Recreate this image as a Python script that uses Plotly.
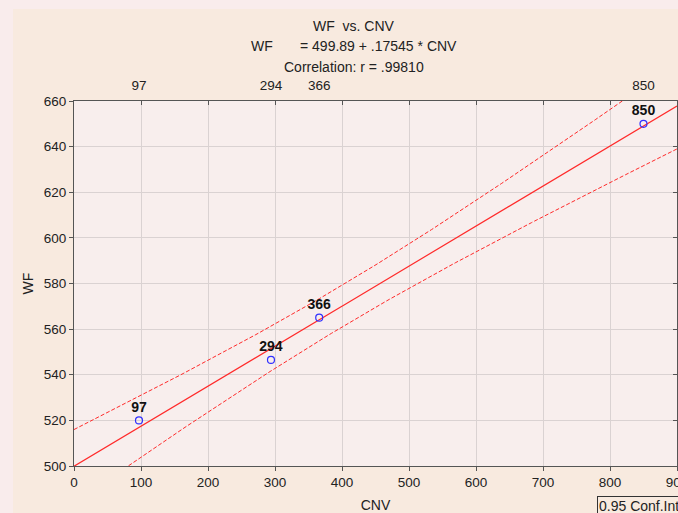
import numpy as np
import plotly.graph_objects as go

# Data
cnv = [97, 294, 366, 850]
wf = [520.0, 546.5, 565.0, 650.0]
point_labels = ["97", "294", "366", "850"]
x_ticks = [0, 100, 200, 300, 400, 500, 600, 700, 800, 900]
y_ticks = [500, 520, 540, 560, 580, 600, 620, 640, 660]
T_975_DF2 = 4.302653  # Student t, 95% two-sided, df = n-2 = 2

# Regression + 95% confidence band for the mean
x = np.array(cnv, float)
y = np.array(wf, float)
n = len(x)
xm, ym = x.mean(), y.mean()
sxx = ((x - xm) ** 2).sum()
b = ((x - xm) * (y - ym)).sum() / sxx
a = ym - b * xm
r = np.corrcoef(x, y)[0, 1]
s = np.sqrt(((y - (a + b * x)) ** 2).sum() / (n - 2))
xs = np.linspace(0, 900, 200)
fit = a + b * xs
half = T_975_DF2 * s * np.sqrt(1 / n + (xs - xm) ** 2 / sxx)

FONT = "Liberation Sans, Arial, sans-serif"
RED = "#ff2a2a"
DASH = "4px,2px"
TICK_FS = 13.5
TXT_FS = 14

fig = go.Figure()
fig.add_trace(go.Scatter(x=xs, y=fit + half, mode="lines",
                         line=dict(color=RED, width=1, dash=DASH), hoverinfo="skip"))
fig.add_trace(go.Scatter(x=xs, y=fit - half, mode="lines",
                         line=dict(color=RED, width=1, dash=DASH), hoverinfo="skip"))
fig.add_trace(go.Scatter(x=xs, y=fit, mode="lines",
                         line=dict(color=RED, width=1.2), hoverinfo="skip"))
fig.add_trace(go.Scatter(x=cnv, y=wf, mode="markers+text", text=point_labels,
                         textposition="top center",
                         textfont=dict(family=FONT, size=14, color="#111"),
                         texttemplate="<b>%{text}</b>",
                         marker=dict(symbol="circle-open", size=7,
                                     color="#3030ff", line=dict(width=1.2))))
# invisible traces to activate the extra axes
fig.add_trace(go.Scatter(x=cnv, y=wf, xaxis="x2", mode="markers",
                         marker=dict(opacity=0), hoverinfo="skip"))
fig.add_trace(go.Scatter(x=cnv, y=wf, xaxis="x3", yaxis="y2", mode="markers",
                         marker=dict(opacity=0), hoverinfo="skip"))

fig.update_layout(
    width=678, height=513, autosize=False,
    margin=dict(l=74, r=1, t=101, b=47),
    paper_bgcolor="#f8eadf",
    plot_bgcolor="#f8eeed",
    showlegend=False,
    font=dict(family=FONT, size=TICK_FS, color="#222"),
    xaxis=dict(range=[0, 900], tickvals=x_ticks, ticktext=[str(v) for v in x_ticks],
               showgrid=True, gridcolor="#dad2d2", gridwidth=1,
               showline=True, linecolor="#555", linewidth=1, mirror=True,
               ticks="outside", ticklen=4, tickcolor="#555", zeroline=False,
               ticklabeloverflow="allow", automargin=False,
               title=dict(text="CNV", font=dict(size=TXT_FS), standoff=12),
               tickfont=dict(size=TICK_FS)),
    xaxis2=dict(range=[0, 900], overlaying="x", side="top",
                tickvals=cnv, ticktext=point_labels, showgrid=False,
                ticklabeloverflow="allow", automargin=False,
                showline=False, ticks="outside", ticklen=5,
                tickcolor="rgba(0,0,0,0)", zeroline=False,
                tickfont=dict(size=TICK_FS)),
    xaxis3=dict(range=[0, 900], overlaying="x", side="top",
                tickvals=x_ticks, showticklabels=False, showgrid=False,
                showline=False, ticks="inside", ticklen=4, tickcolor="#555",
                zeroline=False, automargin=False),
    yaxis=dict(range=[500, 660], tickvals=y_ticks,
               showgrid=True, gridcolor="#dad2d2", gridwidth=1,
               showline=True, linecolor="#555", linewidth=1, mirror=True,
               ticks="outside", ticklen=4, tickcolor="#555", zeroline=False,
               automargin=False,
               title=dict(text="WF", font=dict(size=TXT_FS), standoff=6),
               tickfont=dict(size=TICK_FS)),
    yaxis2=dict(range=[500, 660], overlaying="y", side="right",
                tickvals=y_ticks, showticklabels=False, showgrid=False,
                showline=False, ticks="inside", ticklen=4, tickcolor="#555",
                zeroline=False, automargin=False),
)

# pink outer strips (left and top) around the peach panel
px0 = lambda p: (p - 74) / 603
py0 = lambda p: (466 - p) / 365
fig.add_shape(type="rect", xref="paper", yref="paper",
              x0=px0(0), x1=px0(13), y0=py0(513), y1=py0(0),
              fillcolor="#f9ecec", line=dict(width=0), layer="below")
fig.add_shape(type="rect", xref="paper", yref="paper",
              x0=px0(0), x1=px0(678), y0=py0(9), y1=py0(0),
              fillcolor="#f9ecec", line=dict(width=0), layer="below")

title_lines = [
    "WF  vs. CNV",
    "WF&nbsp;&nbsp;&nbsp;&nbsp;&nbsp;&nbsp; = %.2f + .%d * CNV" % (a, round(b * 1e5)),
    "Correlation: r = .%d" % round(r * 1e5),
]
title_y = [26, 46, 67]
for t, py in zip(title_lines, title_y):
    fig.add_annotation(text=t, xref="paper", yref="paper",
                       x=px0(354), y=py0(py),
                       showarrow=False, xanchor="center", yanchor="middle",
                       font=dict(size=TXT_FS, color="#222"))

fig.add_annotation(text="0.95 Conf.Int.", xref="paper", yref="paper",
                   x=px0(597), y=py0(496),
                   xanchor="left", yanchor="top", showarrow=False,
                   bordercolor="#333", borderwidth=1, borderpad=1,
                   font=dict(size=TXT_FS, color="#222"))

fig.write_html("out.html",
               config={"displayModeBar": False, "responsive": False},
               post_script="document.body.style.margin='0';document.body.style.overflow='hidden';")
